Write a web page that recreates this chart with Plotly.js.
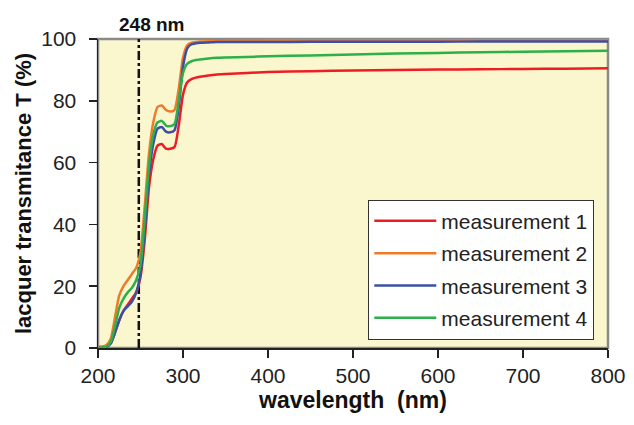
<!DOCTYPE html>
<html>
<head>
<meta charset="utf-8">
<script src="https://cdn.plot.ly/plotly-3.0.1.min.js"></script>
<style>html,body{margin:0;padding:0;background:#fff;}#chart{width:634px;height:425px;}</style>
</head>
<body>
<div id="chart"></div>
<script>
const wavelength = [200,205,210,215,220,225,230,235,240,245,250,255,260,265,270,275,280,285,290,295,300,305,310,315,320,330,340,350,375,400,450,500,550,600,650,700,750,800];
const measurement1 = [0,0,0.3,1.5,5,9,12,14,16,18,23,35,52,61,65.5,66,64.5,64.5,65,72,82,86,87,87.5,87.8,88.2,88.5,88.7,89,89.3,89.6,89.8,90,90.1,90.2,90.3,90.4,90.5];
const measurement2 = [0.5,0.5,1,3,10,17,20,22,24,26,31,46,63,73,78,78.5,77,76.5,77,84,94,98,98.8,99,99.2,99.3,99.3,99.4,99.4,99.5,99.5,99.5,99.5,99.6,99.6,99.6,99.6,99.6];
const measurement3 = [0,0,0.3,1.5,5,9,12,13.5,15,18,24,38,56,66,71,71.5,70,69.8,70.5,78,91,97,98.3,98.6,98.8,98.9,99,99,99,99,99.1,99.1,99.1,99.1,99.2,99.2,99.2,99.2];
const measurement4 = [0,0.2,0.5,2,7,13,16,18,19.5,22,27,42,59,69,73,73.5,72,71.8,72.5,80,89,92,92.8,93.2,93.4,93.7,93.9,94,94.2,94.4,94.7,95,95.3,95.5,95.7,95.9,96,96.2];
const seriesNames = ['measurement 1','measurement 2','measurement 3','measurement 4'];
const seriesColors = ['#EE1D23','#EE7B2A','#3B4FA6','#2BB04A'];
const markerWavelength = [248, 248];
const markerRange = [0, 100];
const markerLabel = '248 nm';

const series = [measurement1, measurement2, measurement3, measurement4];
const traces = series.map((y, i) => ({
  x: wavelength, y: y, type: 'scatter', mode: 'lines',
  name: seriesNames[i], legendgroup: 'g' + i,
  line: {color: seriesColors[i], width: 2.5, shape: 'spline', smoothing: 0.6}
}));
traces.unshift({
  x: markerWavelength, y: markerRange, type: 'scatter', mode: 'lines',
  showlegend: false, hoverinfo: 'skip',
  line: {color: '#111', width: 2.5, dash: 'dashdot'}
});

const layout = {
  width: 634, height: 425,
  margin: {l: 98, r: 26, t: 39, b: 77},
  paper_bgcolor: '#fff',
  plot_bgcolor: '#FAF6CD',
  font: {family: 'Liberation Sans, Arial, sans-serif', color: '#222'},
  xaxis: {
    range: [200, 800], tickvals: [200,300,400,500,600,700,800],
    ticks: 'outside', ticklen: 8, tickwidth: 1.5, tickcolor: '#222',
    showline: true, linecolor: '#222', linewidth: 1.5,
    showgrid: false, zeroline: false,
    tickfont: {size: 21, color: '#222'},
    title: {text: '<b>wavelength  (nm)</b>', font: {size: 23, color: '#111'}, standoff: 2}
  },
  yaxis: {
    range: [0, 100], tickvals: [0,20,40,60,80,100],
    ticks: 'outside', ticklen: 8, tickwidth: 1.5, tickcolor: '#222',
    showline: true, linecolor: '#222', linewidth: 1.5,
    showgrid: false, zeroline: false,
    ticklabelstandoff: 8,
    tickfont: {size: 21, color: '#222'},
    title: {text: '<b>lacquer transmitance T (%)</b>', font: {size: 22, color: '#111'}, standoff: 3}
  },
  shapes: [{
    type: 'rect', xref: 'paper', yref: 'paper', x0: 0, x1: 1, y0: 0, y1: 1,
    line: {color: '#8a8a8a', width: 2.5}, layer: 'below'
  }],
  annotations: [{
    x: markerWavelength[0], y: 1, xref: 'x', yref: 'paper',
    xanchor: 'center', yanchor: 'bottom', yshift: 2, xshift: 13,
    text: '<b>' + markerLabel + '</b>', showarrow: false,
    font: {size: 19, color: '#111'}
  }],
  legend: {
    x: 0.53, y: 0.48, xanchor: 'left', yanchor: 'top',
    bgcolor: '#fff', bordercolor: '#333', borderwidth: 1,
    font: {size: 21, color: '#222'}, tracegroupgap: 2,
    itemwidth: 62
  },
  showlegend: true
};

Plotly.newPlot('chart', traces, layout, {displayModeBar: false, staticPlot: true});
</script>
</body>
</html>
